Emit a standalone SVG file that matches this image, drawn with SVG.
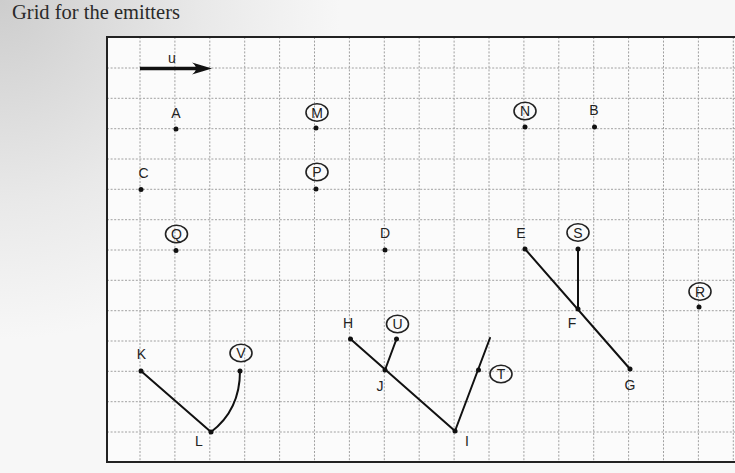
<svg xmlns="http://www.w3.org/2000/svg" width="735" height="473" viewBox="0 0 735 473">
<style>
.grid line{stroke:#a0a0a0;stroke-width:1;stroke-dasharray:2 1.6}
.lbl{font-family:"Liberation Sans",Arial,sans-serif;font-size:14px;fill:#222;text-anchor:middle}
.ring{fill:none;stroke:#222;stroke-width:1.6}
.dot{fill:#111}
.conn{stroke:#111;stroke-width:2;fill:none;stroke-linecap:round}
</style>
<defs>
<radialGradient id="shade" cx="0" cy="0" r="340" gradientUnits="userSpaceOnUse">
<stop offset="0" stop-color="#cdcdcd"/>
<stop offset="0.6" stop-color="#e9e9e9"/>
<stop offset="1" stop-color="#f7f7f7"/>
</radialGradient>
</defs>
<rect x="0" y="0" width="735" height="473" fill="url(#shade)"/>
<rect x="107" y="37" width="628" height="425" fill="#fbfbfb"/>
<text x="12" y="19" font-family="'Liberation Serif','Times New Roman',serif" font-size="20.5" fill="#2a2a2a">Grid for the emitters</text>
<g class="grid">
<line x1="140" y1="37" x2="140" y2="462"/>
<line x1="174.9" y1="37" x2="174.9" y2="462"/>
<line x1="209.8" y1="37" x2="209.8" y2="462"/>
<line x1="244.7" y1="37" x2="244.7" y2="462"/>
<line x1="279.6" y1="37" x2="279.6" y2="462"/>
<line x1="314.5" y1="37" x2="314.5" y2="462"/>
<line x1="349.4" y1="37" x2="349.4" y2="462"/>
<line x1="384.3" y1="37" x2="384.3" y2="462"/>
<line x1="419.2" y1="37" x2="419.2" y2="462"/>
<line x1="454.1" y1="37" x2="454.1" y2="462"/>
<line x1="489" y1="37" x2="489" y2="462"/>
<line x1="523.9" y1="37" x2="523.9" y2="462"/>
<line x1="558.8" y1="37" x2="558.8" y2="462"/>
<line x1="593.7" y1="37" x2="593.7" y2="462"/>
<line x1="628.6" y1="37" x2="628.6" y2="462"/>
<line x1="663.5" y1="37" x2="663.5" y2="462"/>
<line x1="698.4" y1="37" x2="698.4" y2="462"/>
<line x1="733.3" y1="37" x2="733.3" y2="462"/>
<line x1="107" y1="68" x2="735" y2="68"/>
<line x1="107" y1="98.3" x2="735" y2="98.3"/>
<line x1="107" y1="128.7" x2="735" y2="128.7"/>
<line x1="107" y1="159" x2="735" y2="159"/>
<line x1="107" y1="189.3" x2="735" y2="189.3"/>
<line x1="107" y1="219.7" x2="735" y2="219.7"/>
<line x1="107" y1="250" x2="735" y2="250"/>
<line x1="107" y1="280.3" x2="735" y2="280.3"/>
<line x1="107" y1="310.7" x2="735" y2="310.7"/>
<line x1="107" y1="341" x2="735" y2="341"/>
<line x1="107" y1="371.3" x2="735" y2="371.3"/>
<line x1="107" y1="401.7" x2="735" y2="401.7"/>
<line x1="107" y1="432" x2="735" y2="432"/>
</g>
<path d="M735,37 H107 V462 H735" fill="none" stroke="#222" stroke-width="2"/>
<g id="u">
<line x1="140" y1="68.5" x2="204" y2="68.5" stroke="#111" stroke-width="3.5"/>
<path d="M212,68.5 L192,62.5 Q200,68.5 192,74.5 Z" fill="#111"/>
<text class="lbl" x="172" y="63">u</text>
</g>
<g id="connectors">
<path class="conn" d="M141,371 L211,432"/>
<path class="conn" d="M240,371 Q240,410 211,432"/>
<path class="conn" d="M350.5,339 L455,431"/>
<path class="conn" d="M396.5,339 L385,370"/>
<path class="conn" d="M455,431 L490,338"/>
<path class="conn" d="M525,249 L630,369"/>
<path class="conn" d="M578,249 L578,309"/>
</g>
<g id="A"><circle class="dot" cx="176" cy="129" r="2.5"/><text class="lbl" x="176" y="118">A</text></g>
<g id="M"><circle class="dot" cx="316" cy="128" r="2.5"/><ellipse class="ring" cx="317" cy="112.5" rx="11" ry="8.8"/><text class="lbl" x="317" y="117.5">M</text></g>
<g id="N"><circle class="dot" cx="525" cy="127" r="2.5"/><ellipse class="ring" cx="525" cy="111" rx="11" ry="8.8"/><text class="lbl" x="525" y="116">N</text></g>
<g id="B"><circle class="dot" cx="594.5" cy="127" r="2.5"/><text class="lbl" x="594" y="115">B</text></g>
<g id="C"><circle class="dot" cx="141" cy="189.5" r="2.5"/><text class="lbl" x="143.5" y="178">C</text></g>
<g id="P"><circle class="dot" cx="316" cy="189" r="2.5"/><ellipse class="ring" cx="317" cy="172" rx="11" ry="8.8"/><text class="lbl" x="317" y="177">P</text></g>
<g id="Q"><circle class="dot" cx="176" cy="250.5" r="2.5"/><ellipse class="ring" cx="176.5" cy="234" rx="11" ry="8.8"/><text class="lbl" x="176.5" y="239">Q</text></g>
<g id="D"><circle class="dot" cx="385" cy="250" r="2.5"/><text class="lbl" x="385" y="238">D</text></g>
<g id="E"><circle class="dot" cx="525" cy="249" r="2.5"/><text class="lbl" x="521" y="237.5">E</text></g>
<g id="S"><circle class="dot" cx="578" cy="249" r="2.5"/><ellipse class="ring" cx="578" cy="232.5" rx="11" ry="8.8"/><text class="lbl" x="578" y="237.5">S</text></g>
<g id="F"><circle class="dot" cx="578" cy="309" r="2.5"/><text class="lbl" x="572" y="327.5">F</text></g>
<g id="R"><circle class="dot" cx="699" cy="307" r="2.5"/><ellipse class="ring" cx="700" cy="291.5" rx="11" ry="8.8"/><text class="lbl" x="700" y="296.5">R</text></g>
<g id="G"><circle class="dot" cx="630" cy="369" r="2.5"/><text class="lbl" x="630" y="390">G</text></g>
<g id="H"><circle class="dot" cx="350.5" cy="339" r="2.5"/><text class="lbl" x="348" y="327.5">H</text></g>
<g id="U"><circle class="dot" cx="396.5" cy="339" r="2.5"/><ellipse class="ring" cx="397.5" cy="324" rx="11" ry="8.8"/><text class="lbl" x="397.5" y="329">U</text></g>
<g id="J"><circle class="dot" cx="385" cy="370" r="2.5"/><text class="lbl" x="380" y="391">J</text></g>
<g id="I"><circle class="dot" cx="455" cy="431" r="2.5"/><text class="lbl" x="467" y="446">I</text></g>
<g id="T"><circle class="dot" cx="478.5" cy="370" r="2.5"/><ellipse class="ring" cx="501" cy="374" rx="11" ry="8.8"/><text class="lbl" x="501" y="379">T</text></g>
<g id="K"><circle class="dot" cx="141" cy="371" r="2.5"/><text class="lbl" x="141.5" y="359">K</text></g>
<g id="V"><circle class="dot" cx="240" cy="371" r="2.5"/><ellipse class="ring" cx="241" cy="353" rx="11" ry="8.8"/><text class="lbl" x="241" y="358">V</text></g>
<g id="L"><circle class="dot" cx="211" cy="432" r="2.5"/><text class="lbl" x="199" y="445.5">L</text></g>
</svg>
